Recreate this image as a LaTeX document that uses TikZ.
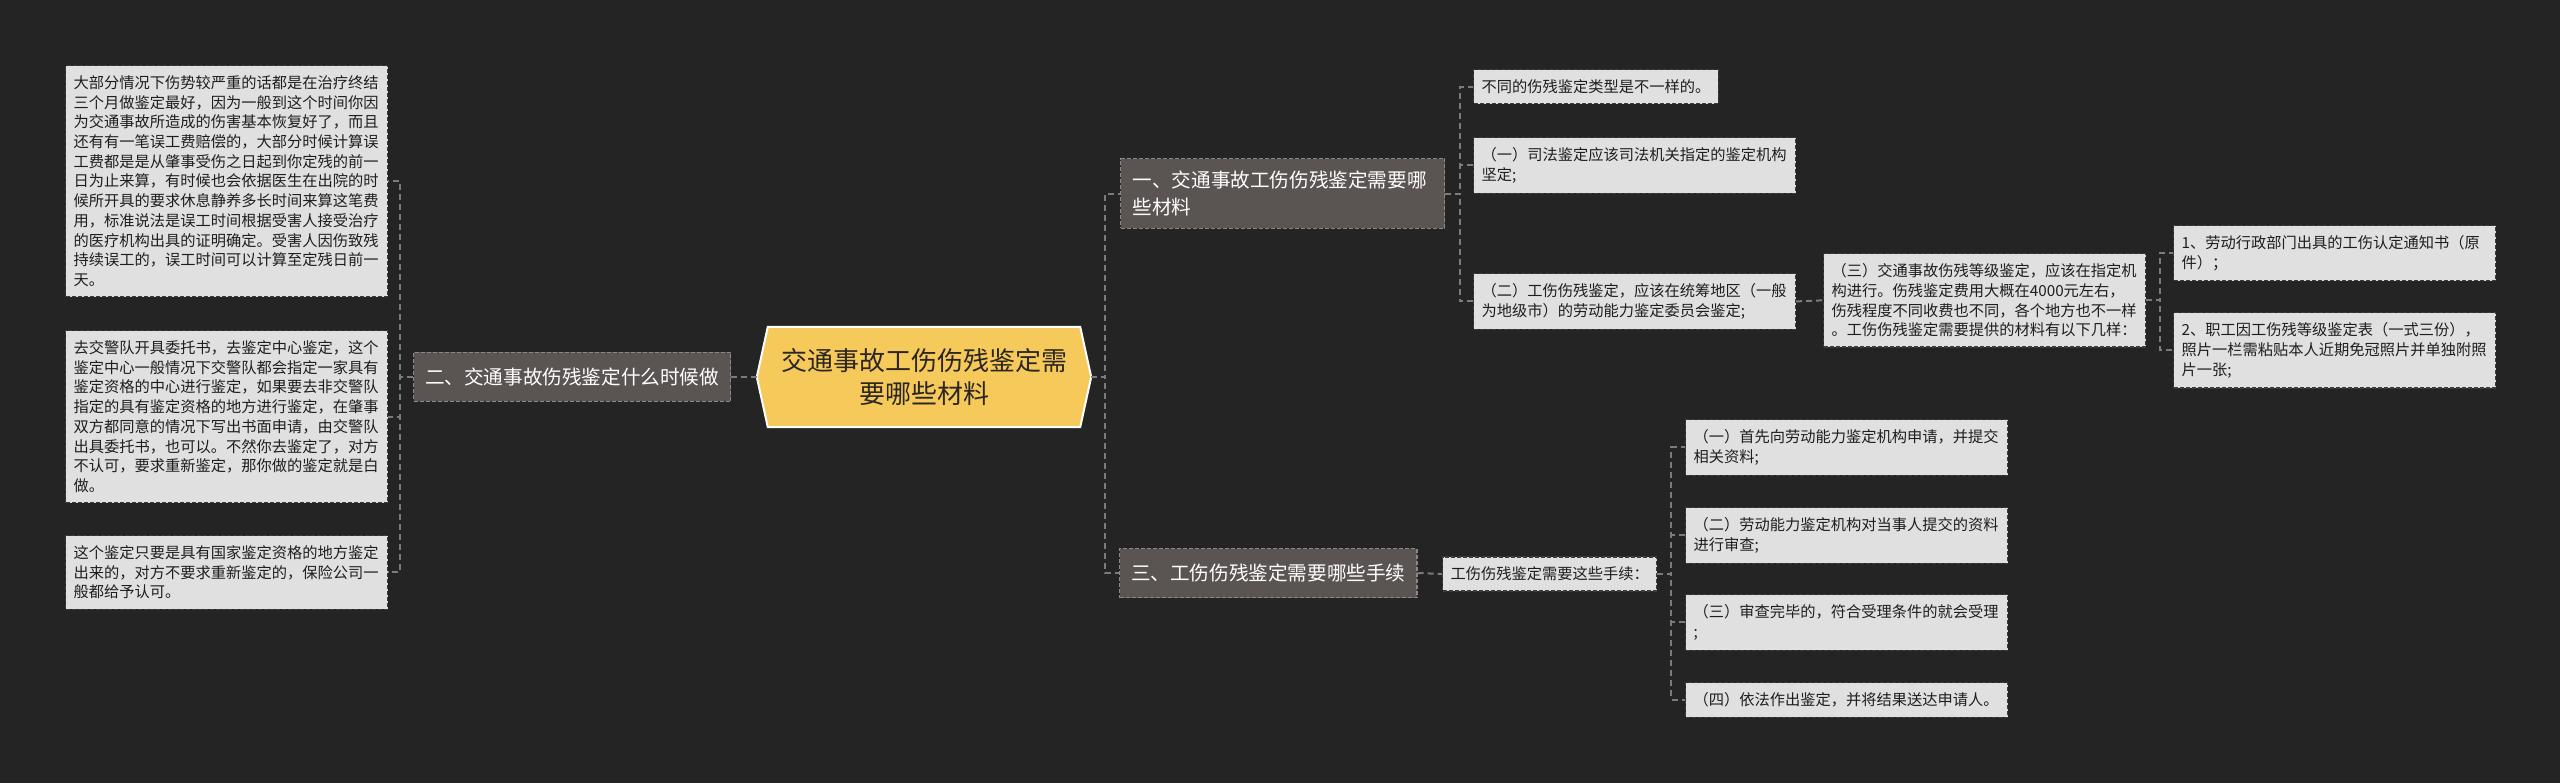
\documentclass[tikz,border=0pt]{standalone}
\usepackage{fontspec}
\setmainfont{Noto Sans CJK SC}
\usepackage{xcolor}
\usetikzlibrary{calc,backgrounds}

\definecolor{bgdark}{HTML}{242424}
\definecolor{leaffill}{HTML}{E0E0E0}
\definecolor{leafline}{HTML}{3C3C3C}
\definecolor{leaftext}{HTML}{1E1E1E}
\definecolor{secfill}{HTML}{5A5553}
\definecolor{secline}{HTML}{8C8886}
\definecolor{rootfill}{HTML}{F6C95B}
\definecolor{roottext}{HTML}{2B2620}
\definecolor{linkgray}{HTML}{7B7B7B}

\begin{document}
\begin{tikzpicture}[x=1pt, y=-1pt,
    leaf/.style={draw=leafline, fill=leaffill, text=leaftext, line width=1.2pt,
        dash pattern=on 4pt off 2pt, align=left, text width=306pt,
        inner xsep=8pt, inner ysep=10pt, anchor=north west,
        font=\fontsize{15.25pt}{19.7pt}\selectfont},
    leafshort/.style={leaf, text width=, anchor=west},
    sec/.style={draw=secline, fill=secfill, text=white, line width=1.2pt,
        dash pattern=on 4pt off 2pt, align=left,
        inner xsep=11.5pt, inner ysep=12.5pt, minimum height=49pt, anchor=west,
        font=\fontsize{19.6pt}{26.7pt}\selectfont},
    centre/.style={text=roottext, align=center, minimum width=334pt,
        minimum height=100pt, inner sep=0pt,
        font=\fontsize{26pt}{33pt}\selectfont},
    link/.style={draw=linkgray, line width=2pt, dash pattern=on 6pt off 4pt}
]

% Root
\node[centre] (root) at (924,377) {交通事故工伤伤残鉴定需\\要哪些材料};

% Branches
\node[sec] (sec2) at (413,377) {二、交通事故伤残鉴定什么时候做};
\node[sec, anchor=north west, text width=300pt, inner xsep=12pt] (sec1) at (1120,158) {一、交通事故工伤伤残鉴定需要哪\\些材料};
\node[sec] (sec3) at (1119,573) {三、工伤伤残鉴定需要哪些手续};

% Left leaves
\node[leaf] (l1) at (65,65) {大部分情况下伤势较严重的话都是在治疗终结\\三个月做鉴定最好，因为一般到这个时间你因\\为交通事故所造成的伤害基本恢复好了，而且\\还有有一笔误工费赔偿的，大部分时候计算误\\工费都是是从肇事受伤之日起到你定残的前一\\日为止来算，有时候也会依据医生在出院的时\\候所开具的要求休息静养多长时间来算这笔费\\用，标准说法是误工时间根据受害人接受治疗\\的医疗机构出具的证明确定。受害人因伤致残\\持续误工的，误工时间可以计算至定残日前一\\天。};
\node[leaf] (l2) at (65,330) {去交警队开具委托书，去鉴定中心鉴定，这个\\鉴定中心一般情况下交警队都会指定一家具有\\鉴定资格的中心进行鉴定，如果要去非交警队\\指定的具有鉴定资格的地方进行鉴定，在肇事\\双方都同意的情况下写出书面申请，由交警队\\出具委托书，也可以。不然你去鉴定了，对方\\不认可，要求重新鉴定，那你做的鉴定就是白\\做。};
\node[leaf] (l3) at (65,535) {这个鉴定只要是具有国家鉴定资格的地方鉴定\\出来的，对方不要求重新鉴定的，保险公司一\\般都给予认可。};

% Right leaves, part one
\node[leafshort, anchor=north west] (r1a) at (1473,69) {不同的伤残鉴定类型是不一样的。};
\node[leaf] (r1b) at (1473,137) {（一）司法鉴定应该司法机关指定的鉴定机构\\坚定;};
\node[leaf] (r1c) at (1473,273) {（二）工伤伤残鉴定，应该在统筹地区（一般\\为地级市）的劳动能力鉴定委员会鉴定;};
\node[leaf] (r3) at (1823,253) {（三）交通事故伤残等级鉴定，应该在指定机\\构进行。伤残鉴定费用大概在4000元左右，\\伤残程度不同收费也不同，各个地方也不一样\\。工伤伤残鉴定需要提供的材料有以下几样：};
\node[leaf] (d1) at (2173,225) {1、劳动行政部门出具的工伤认定通知书（原\\件）；};
\node[leaf] (d2) at (2173,312) {2、职工因工伤残等级鉴定表（一式三份），\\照片一栏需粘贴本人近期免冠照片并单独附照\\片一张;};

% Right leaves, part three
\node[leafshort] (w) at (1442,574) {工伤伤残鉴定需要这些手续：};
\node[leaf] (c1) at (1685,419) {（一）首先向劳动能力鉴定机构申请，并提交\\相关资料;};
\node[leaf] (c2) at (1685,507) {（二）劳动能力鉴定机构对当事人提交的资料\\进行审查;};
\node[leaf] (c3) at (1685,594) {（三）审查完毕的，符合受理条件的就会受理\\;};
\node[leaf] (c4) at (1685,682) {（四）依法作出鉴定，并将结果送达申请人。};

\begin{scope}[on background layer]
\fill[bgdark] (0,0) rectangle (2560,783);
\draw[fill=rootfill, draw=white, line width=2pt]
    ($(root.north west)+(11,0)$) -- ($(root.north east)+(-11,0)$) -- (root.east)
    -- ($(root.south east)+(-11,0)$) -- ($(root.south west)+(11,0)$) -- (root.west) -- cycle;

% Connectors
\draw[link] (root.west) -- (sec2.east);
\draw[link] (root.east) -- ++(14,0) |- (sec1.west);
\draw[link] (root.east) -- ++(14,0) |- (sec3.west);

\draw[link] (sec2.west) -- ++(-13,0) |- (l1.east);
\draw[link] (sec2.west) -- ++(-13,0) |- (l2.east);
\draw[link] (sec2.west) -- ++(-13,0) |- (l3.east);

\draw[link] (sec1.east) -- ++(15,0) |- (r1a.west);
\draw[link] (sec1.east) -- ++(15,0) |- (r1b.west);
\draw[link] (sec1.east) -- ++(15,0) |- (r1c.west);
\draw[link] (r1c.east) -- (r3.west);
\draw[link] (r3.east) -- ++(14,0) |- (d1.west);
\draw[link] (r3.east) -- ++(14,0) |- (d2.west);

\draw[link] (sec3.east) -- (w.west);
\draw[link] (w.east) -- ++(14,0) |- (c1.west);
\draw[link] (w.east) -- ++(14,0) |- (c2.west);
\draw[link] (w.east) -- ++(14,0) |- (c3.west);
\draw[link] (w.east) -- ++(14,0) |- (c4.west);
\end{scope}

\end{tikzpicture}
\end{document}
